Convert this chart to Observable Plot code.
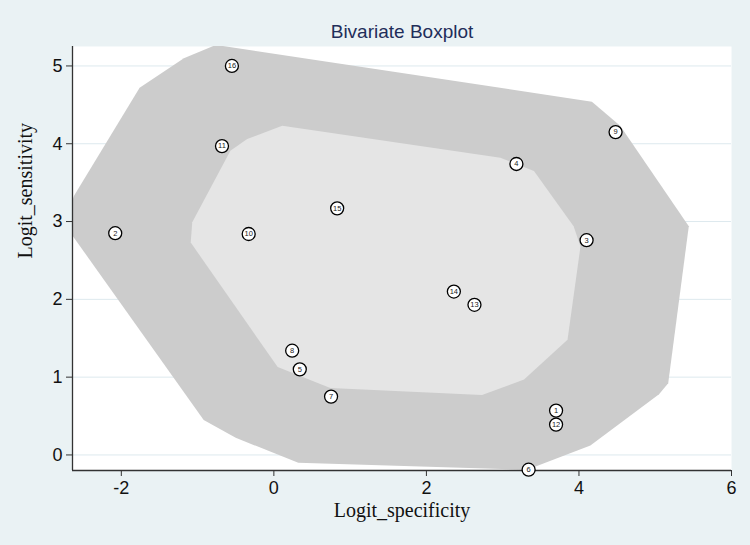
<!DOCTYPE html>
<html>
<head>
<meta charset="utf-8">
<script src="https://cdn.jsdelivr.net/npm/d3@7"></script>
<script src="https://cdn.jsdelivr.net/npm/@observablehq/plot@0.6"></script>
<style>
  html, body { margin: 0; padding: 0; background: #eaf2f4; }
  #chart svg { display: block; }
</style>
</head>
<body>
<div id="chart"></div>
<script>
// Study points (logit specificity, logit sensitivity)
const ids   = [1, 2, 3, 4, 5, 6, 7, 8, 9, 10, 11, 12, 13, 14, 15, 16];
const specX = [3.70, -2.08, 4.10, 3.18, 0.34, 3.34, 0.75, 0.24, 4.48, -0.33, -0.68, 3.70, 2.63, 2.36, 0.83, -0.55];
const sensY = [0.57, 2.85, 2.76, 3.74, 1.10, -0.19, 0.75, 1.34, 4.15, 2.84, 3.97, 0.39, 1.93, 2.10, 3.17, 5.00];

// Outer (fence) polygon vertices
const fenceX = [-0.76, -1.18, -1.76, -2.62, -2.75, -0.92, -0.50, 0.32, 3.32, 4.15, 5.05, 5.17, 5.44, 4.54, 4.17];
const fenceY = [5.27, 5.10, 4.72, 3.33, 2.97, 0.45, 0.22, -0.10, -0.19, 0.12, 0.78, 0.92, 2.94, 4.23, 4.54];

// Inner (hinge) polygon vertices
const hingeX = [0.11, -0.35, -0.57, -1.07, -1.09, 0.05, 0.74, 2.73, 3.28, 3.85, 4.02, 3.93, 3.41, 2.97];
const hingeY = [4.23, 4.06, 3.91, 2.99, 2.73, 1.13, 0.86, 0.77, 0.97, 1.48, 2.68, 2.94, 3.65, 3.82];

const xTicks = [-2, 0, 2, 4, 6];
const yTicks = [0, 1, 2, 3, 4, 5];
const xDomain = [-2.64, 6];
const yDomain = [-0.2, 5.25];

const points = ids.map((id, i) => ({id, x: specX[i], y: sensY[i]}));
const fence = fenceX.map((x, i) => ({x, y: fenceY[i]}));
const hinge = hingeX.map((x, i) => ({x, y: hingeY[i]}));

const fmt = d => String(d);

const chart = Plot.plot({
  width: 750,
  height: 545,
  marginTop: 46,
  marginLeft: 72,
  marginRight: 19,
  marginBottom: 75,
  style: {background: "#eaf2f4", fontFamily: "'Liberation Sans', Arial, sans-serif", fontSize: "18px", overflow: "visible"},
  x: {domain: xDomain, ticks: xTicks},
  y: {domain: yDomain, ticks: yTicks},
  marks: [
    Plot.frame({fill: "white", stroke: "none"}),
    Plot.gridY(yTicks, {stroke: "#dde9ee", strokeOpacity: 1, strokeWidth: 1}),
    Plot.line(fence, {x: "x", y: "y", fill: "#cccccc", stroke: "none", clip: true}),
    Plot.line(hinge, {x: "x", y: "y", fill: "#e5e5e5", stroke: "none", clip: true}),
    Plot.ruleX([xDomain[0]], {stroke: "#333", strokeWidth: 1.3}),
    Plot.ruleY([yDomain[0]], {stroke: "#333", strokeWidth: 1.3}),
    Plot.axisX(xTicks, {tickSize: 6, tickPadding: 5, fontSize: 18, fill: "#111", stroke: "#333", label: null, tickFormat: fmt}),
    Plot.axisY(yTicks, {tickSize: 6, tickPadding: 4, fontSize: 18, fill: "#111", stroke: "#333", label: null, tickFormat: fmt}),
    Plot.dot(points, {x: "x", y: "y", r: 6.5, fill: "white", stroke: "black", strokeWidth: 1.3}),
    Plot.text(points, {x: "x", y: "y", text: "id", fontSize: 7.5, fill: "#222"}),
    Plot.text(["Bivariate Boxplot"], {frameAnchor: "top", dy: -22, fontSize: 19, fill: "#1f2e5a", fontFamily: "'Liberation Sans', Arial, sans-serif"}),
    Plot.text(["Logit_specificity"], {frameAnchor: "bottom", dy: 46, fontSize: 20, fill: "#111", fontFamily: "'Liberation Serif', 'Times New Roman', serif"}),
    Plot.text(["Logit_sensitivity"], {frameAnchor: "left", dx: -47, rotate: -90, fontSize: 20, fill: "#111", fontFamily: "'Liberation Serif', 'Times New Roman', serif"})
  ]
});
document.getElementById("chart").appendChild(chart);
</script>
</body>
</html>
